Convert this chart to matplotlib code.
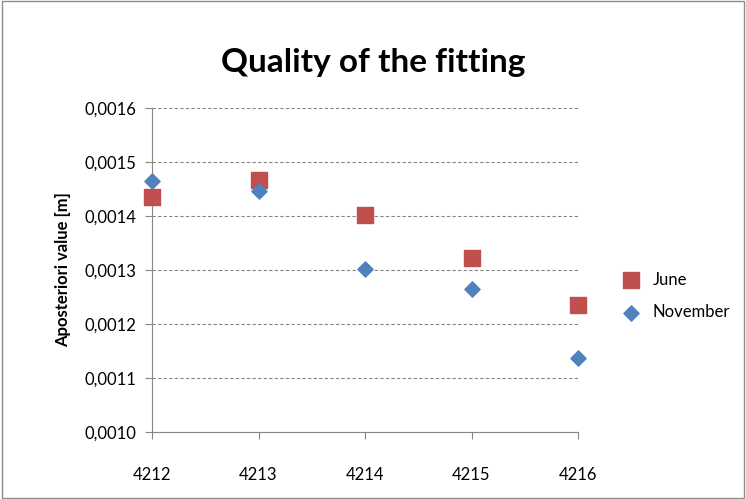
import matplotlib
matplotlib.use("Agg")
import matplotlib.pyplot as plt

plt.rcParams["font.family"] = ["Lato", "DejaVu Sans"]

stations = [4212, 4213, 4214, 4215, 4216]
june = [0.001435, 0.001467, 0.001402, 0.001322, 0.001235]
november = [0.001465, 0.001446, 0.001302, 0.001265, 0.001137]
yticks = [0.0010, 0.0011, 0.0012, 0.0013, 0.0014, 0.0015, 0.0016]

fig = plt.figure(figsize=(7.46, 4.99), dpi=100)
ax = fig.add_axes([152/746, 1 - 432/499, (578-152)/746, (432-108)/499])
fig.patches.append(plt.Rectangle((0.003, 0.003), 0.994, 0.994, transform=fig.transFigure,
                                 fill=False, ec="#8c8c8c", lw=1))

ax.scatter(stations, june, marker="s", s=125, color="#c0504d", label="June",
           zorder=3, clip_on=False)
ax.scatter(stations, november, marker="D", s=60, color="#4f81bd", label="November",
           zorder=3, clip_on=False)

ax.set_xlim(4212, 4216)
ax.set_ylim(0.0010, 0.0016)
ax.set_xticks(stations)
ax.set_yticks(yticks)
ax.set_yticklabels([f"{v:.4f}".replace(".", ",") for v in yticks])
ax.tick_params(axis="both", labelsize=12, length=5, color="#868686")
ax.tick_params(axis="x", pad=20)
ax.tick_params(axis="y", pad=6)
ax.grid(axis="y", linestyle=(0, (3, 2)), color="#868686", lw=0.8)
for s in ["top", "right"]:
    ax.spines[s].set_visible(False)
for s in ["left", "bottom"]:
    ax.spines[s].set_color("#868686")
ax.set_ylabel("Aposteriori value [m]", fontsize=12, fontweight="bold", labelpad=10)
fig.text(0.5, 0.855, "Quality of the fitting", ha="center", fontsize=24, fontweight="bold")
ax.legend(loc="center left", bbox_to_anchor=(1.05, 0.42), frameon=False, fontsize=12,
          handletextpad=0.3, labelspacing=1.0)

fig.savefig("out.png", dpi=100)
